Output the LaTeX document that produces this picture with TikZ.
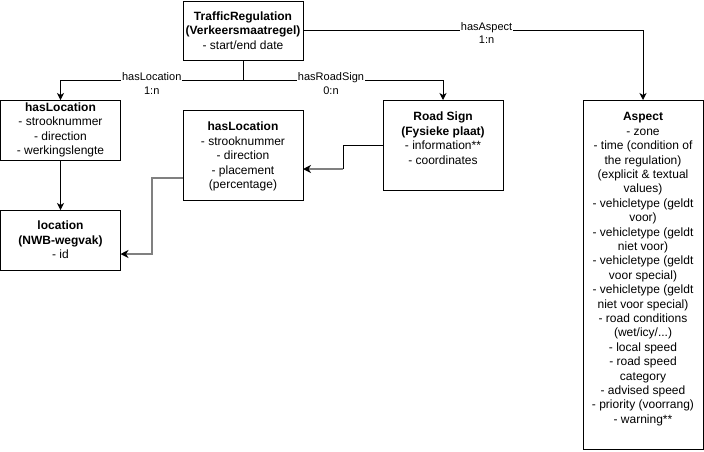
\documentclass[tikz,border=0pt]{standalone}
\usepackage{fontspec}
\setmainfont{Liberation Sans}
\usepackage{xcolor}
\usetikzlibrary{arrows.meta, positioning, calc}

\begin{document}
\begin{tikzpicture}[x=1pt, y=-1pt,
                % Define styles
                box/.style={rectangle, draw, line width=1pt, minimum width=120pt, inner sep=0pt, outer sep=0pt, align=center, font=\fontsize{12}{14.4}\selectfont},
                boxtext/.style={inner sep=0pt, align=center, font=\fontsize{12}{14.4}\selectfont},
                rel/.style={fill=white, inner sep=1pt, anchor=base, font=\fontsize{11}{13.2}\selectfont},
                card/.style={inner sep=1pt, font=\fontsize{11}{13.2}\selectfont},
                line/.style={draw, line width=1pt, -{Stealth[length=7pt, width=7pt, inset=2pt]}},
                wire/.style={draw, line width=1pt},
                greywire/.style={draw=gray, line width=2pt, -{Stealth[length=8pt, width=8pt, inset=2.5pt, black]}}
            ]
            \useasboundingbox (0,0) rectangle (704,451);

            % --- Nodes ---

            % 1. Traffic regulation
            \node [box, minimum height=59pt] (tr) at (243,30.5) {\textbf{TrafficRegulation}\\\textbf{(Verkeersmaatregel)}\\- start/end date};

            % 2. Location of the regulation
            \node [box, minimum height=60pt, anchor=north] (locA) at (60.5,100) {\textbf{hasLocation}\\- strooknummer\\- direction\\- werkingslengte};
            \node [box, minimum height=60pt, below=50pt of locA] (nwb) {\textbf{location}\\\textbf{(NWB-wegvak)}\\- id};

            % 3. Location of the sign
            \node [box, minimum height=90pt, below=50pt of tr] (locB) {};
            \node [boxtext, below=12pt of locB.north] (locBtext) {\textbf{hasLocation}\\- strooknummer\\- direction\\- placement\\(percentage)};

            % 4. Road sign
            \node [box, minimum height=90pt, right=80pt of locB, yshift=10pt] (sign) {};
            \node [boxtext, below=12pt of sign.north] (signtext) {\textbf{Road Sign}\\\textbf{(Fysieke plaat)}\\- information**\\- coordinates};

            % 5. Aspects
            \node [box, minimum height=349pt, anchor=north] (aspect) at (643,100) {};
            \node [boxtext, below=12.5pt of aspect.north] (aspecttext) {\textbf{Aspect}\\- zone\\- time (condition of\\the regulation)\\(explicit \& textual\\values)\\- vehicletype (geldt\\voor)\\- vehicletype (geldt\\niet voor)\\- vehicletype (geldt\\voor special)\\- vehicletype (geldt\\niet voor special)\\- road conditions\\(wet/icy/...)\\- local speed\\- road speed\\category\\- advised speed\\- priority (voorrang)\\- warning**};

            % --- Edges ---
            \coordinate [below=20pt of tr.south] (split);
            \path [wire] (tr.south) -- (split);
            \path [line] (split) -| node [rel, pos=0.25] (relLoc) {hasLocation} (locA.north);
            \path [line] (split) -| node [rel, pos=0.22] (relSign) {hasRoadSign} (sign.north);
            \path [line] (tr.east) -| node [rel, pos=0.27] (relAspect) {hasAspect} (aspect.north);
            \path [line] (locA) -- (nwb);

            % cardinalities
            \node [card, below=5.5pt of relLoc.base] (cardLoc) {1:n};
            \node [card, below=5.5pt of relSign.base] (cardSign) {0:n};
            \node [card, below=4.5pt of relAspect.base] (cardAspect) {1:n};

            % sign -> its location -> road section
            \coordinate [left=40pt of sign.west] (signbend);
            \coordinate [below=14pt of locB.east] (locBin);
            \path [wire] (sign.west) -- (signbend) -- (signbend |- locBin);
            \path [greywire] (signbend |- locBin) -- (locBin);

            \coordinate [below=23pt of locB.west] (locBout);
            \coordinate [left=31pt of locBout] (locBbend);
            \coordinate [below=14pt of nwb.east] (nwbin);
            \path [greywire] (locBout) -- (locBbend) |- (nwbin);

        \end{tikzpicture}
\end{document}
